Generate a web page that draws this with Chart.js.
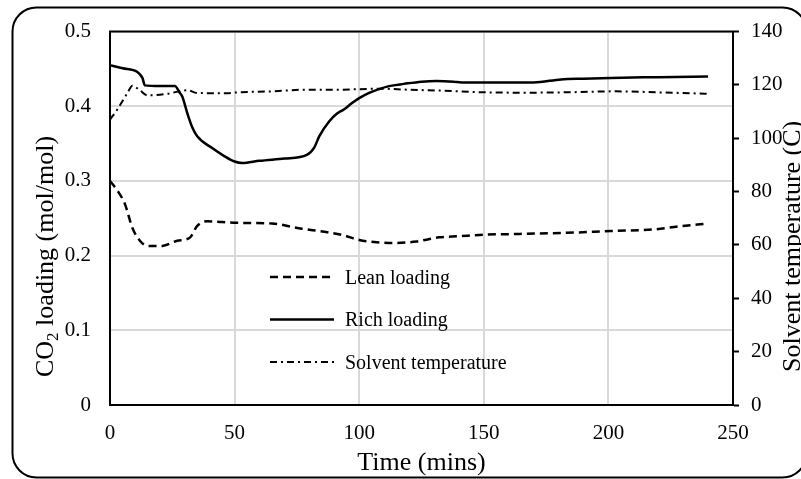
<!DOCTYPE html>
<html>
<head>
<meta charset="utf-8">
<script src="https://cdn.jsdelivr.net/npm/chart.js@4.4.1/dist/chart.umd.min.js"></script>
<style>
  html, body { margin: 0; padding: 0; background: #fff; }
  #wrap { width: 801px; height: 479px; }
</style>
</head>
<body>
<div id="wrap"><canvas id="co2Chart" width="801" height="479"></canvas></div>
<script>
// values (time in mins)
const leanTimes = [0, 3, 6, 9, 12, 15, 21, 27, 32, 35, 39, 45, 51, 65, 77, 86, 94, 100, 107, 114, 123, 132, 140, 150, 163, 187, 201, 218, 228, 240]
const leanLoading = [0.300, 0.287, 0.269, 0.237, 0.220, 0.213, 0.213, 0.220, 0.224, 0.240, 0.246, 0.245, 0.244, 0.243, 0.236, 0.232, 0.227, 0.221, 0.218, 0.217, 0.219, 0.2245, 0.226, 0.228, 0.229, 0.231, 0.233, 0.235, 0.239, 0.243]

const richTimes = [0, 5, 11, 13, 14, 20, 26, 28, 29, 31, 33, 35, 41, 46, 50, 53, 60, 70, 79, 82, 84, 88, 91, 94, 97, 100, 104, 108, 112, 118, 125, 131, 138, 141, 155, 170, 181, 190, 201, 220, 240]
const richLoading = [0.455, 0.451, 0.446, 0.438, 0.428, 0.427, 0.427, 0.418, 0.413, 0.391, 0.372, 0.360, 0.344, 0.333, 0.326, 0.324, 0.327, 0.330, 0.335, 0.345, 0.360, 0.380, 0.390, 0.396, 0.404, 0.411, 0.418, 0.423, 0.427, 0.430, 0.433, 0.434, 0.433, 0.432, 0.432, 0.432, 0.436, 0.437, 0.438, 0.439, 0.440]

const tempTimes = [0, 3, 7, 9, 12, 15, 23, 31, 35, 47, 51, 65, 78, 91, 108, 120, 132, 148, 165, 181, 203, 221, 240]
const solventTemp = [107.0, 110.9, 117.0, 119.7, 118.0, 116.1, 116.7, 118.0, 117.0, 116.9, 117.2, 117.6, 118.2, 118.2, 118.6, 118.2, 117.9, 117.3, 117.1, 117.2, 117.6, 117.2, 116.7]

const seriesLabels = ['Lean loading', 'Rich loading', 'Solvent temperature']
const timeTicks = [0, 50, 100, 150, 200, 250]
const loadingTicks = [0, 0.1, 0.2, 0.3, 0.4, 0.5]
const tempTicks = [0, 20, 40, 60, 80, 100, 120, 140]

const SERIF = '"Liberation Serif", "Times New Roman", serif'
const pairs = (xs, ys) => xs.map((x, i) => ({ x: x, y: ys[i] }))
const setTicks = list => scale => { scale.ticks = list.map(v => ({ value: v })) }

// white page, rounded outer frame, top edge of the plot box
const framePlugin = {
  id: 'frame',
  beforeDraw(chart) {
    const { ctx, width, height } = chart
    ctx.save()
    ctx.fillStyle = '#fff'
    ctx.fillRect(0, 0, width, height)
    ctx.strokeStyle = '#000'
    ctx.lineWidth = 2
    ctx.beginPath()
    ctx.roundRect(12.5, 7.5, 794, 470, 24)
    ctx.stroke()
    ctx.restore()
  },
  afterDraw(chart) {
    const { ctx, chartArea } = chart
    ctx.save()
    ctx.strokeStyle = '#000'
    ctx.lineWidth = 2
    ctx.beginPath()
    ctx.moveTo(chartArea.left - 1, chartArea.top)
    ctx.lineTo(chartArea.right + 1, chartArea.top)
    ctx.stroke()
    ctx.restore()
  }
}

// y axis titles (left one needs a subscript, right one reads bottom-up)
const yTitlesPlugin = {
  id: 'yTitles',
  afterDraw(chart) {
    const { ctx } = chart
    ctx.save()
    ctx.fillStyle = '#000'
    ctx.textAlign = 'left'
    ctx.textBaseline = 'alphabetic'

    ctx.translate(53, 377)
    ctx.rotate(-Math.PI / 2)
    ctx.font = '26px ' + SERIF
    ctx.fillText('CO', 0, 0)
    let w = ctx.measureText('CO').width
    ctx.font = '17px ' + SERIF
    ctx.fillText('2', w, 5)
    w += ctx.measureText('2').width
    ctx.font = '26px ' + SERIF
    ctx.fillText(' loading (mol/mol)', w, 0)
    ctx.restore()

    ctx.save()
    ctx.fillStyle = '#000'
    ctx.textAlign = 'left'
    ctx.textBaseline = 'alphabetic'
    ctx.translate(800, 372)
    ctx.rotate(-Math.PI / 2)
    ctx.font = '26px ' + SERIF
    ctx.fillText('Solvent temperature (C)', 0, 0)
    ctx.restore()
  }
}

// legend sitting inside the plot
const insideLegend = {
  id: 'insideLegend',
  afterDatasetsDraw(chart) {
    const { ctx } = chart
    chart.data.datasets.forEach((ds, i) => {
      const y = 277 + i * 42.5
      ctx.save()
      ctx.strokeStyle = ds.borderColor
      ctx.lineWidth = ds.borderWidth
      ctx.setLineDash(ds.borderDash || [])
      ctx.beginPath()
      ctx.moveTo(270, y)
      ctx.lineTo(334, y)
      ctx.stroke()
      ctx.setLineDash([])
      ctx.fillStyle = '#000'
      ctx.font = '20px ' + SERIF
      ctx.textBaseline = 'middle'
      ctx.fillText(ds.label, 345, y + 1.5)
      ctx.restore()
    })
  }
}

const tickFont = { family: SERIF, size: 21 }

new Chart(document.getElementById('co2Chart'), {
  type: 'line',
  data: {
    datasets: [
      {
        label: seriesLabels[0],
        data: pairs(leanTimes, leanLoading),
        yAxisID: 'y',
        borderColor: '#000',
        borderWidth: 2.5,
        borderDash: [8, 5]
      },
      {
        label: seriesLabels[1],
        data: pairs(richTimes, richLoading),
        yAxisID: 'y',
        borderColor: '#000',
        borderWidth: 2.5
      },
      {
        label: seriesLabels[2],
        data: pairs(tempTimes, solventTemp),
        yAxisID: 'y1',
        borderColor: '#000',
        borderWidth: 2,
        borderDash: [7, 4, 2, 4]
      }
    ]
  },
  options: {
    responsive: false,
    animation: false,
    layout: { padding: { top: 30, left: 0, right: 0, bottom: 0 } },
    elements: {
      point: { radius: 0 },
      line: { cubicInterpolationMode: 'monotone', fill: false }
    },
    plugins: {
      legend: { display: false },
      title: { display: false },
      tooltip: { enabled: false }
    },
    scales: {
      x: {
        type: 'linear',
        min: 0,
        max: 250,
        afterBuildTicks: setTicks(timeTicks),
        afterFit: s => { s.height = 74 },
        grid: { color: '#d9d9d9', lineWidth: 2, drawTicks: false },
        border: { color: '#000', width: 2 },
        ticks: { color: '#000', font: tickFont, padding: 16 },
        title: {
          display: true,
          text: 'Time (mins)',
          color: '#000',
          font: { family: SERIF, size: 26 },
          padding: { top: 0, bottom: 0 }
        }
      },
      y: {
        position: 'left',
        min: 0,
        max: 0.5,
        afterBuildTicks: setTicks(loadingTicks),
        afterFit: s => { s.width = 110 },
        grid: { color: '#d9d9d9', lineWidth: 2, drawTicks: false },
        border: { color: '#000', width: 2 },
        ticks: {
          color: '#000',
          font: tickFont,
          padding: 19,
          callback: v => (v === 0 ? '0' : v.toFixed(1))
        }
      },
      y1: {
        position: 'right',
        min: 0,
        max: 140,
        afterBuildTicks: setTicks(tempTicks),
        afterFit: s => { s.width = 68 },
        grid: { drawOnChartArea: false, drawTicks: true, tickLength: 6, tickColor: '#000', tickWidth: 2 },
        border: { color: '#000', width: 2 },
        ticks: { color: '#000', font: tickFont, padding: 12 }
      }
    }
  },
  plugins: [framePlugin, yTitlesPlugin, insideLegend]
})
</script>
</body>
</html>
